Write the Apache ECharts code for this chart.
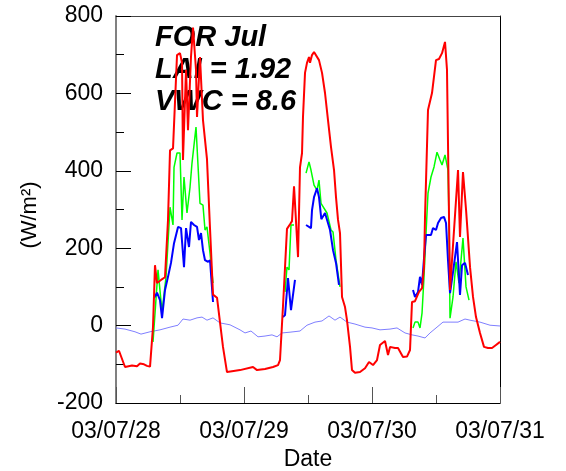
<!DOCTYPE html>
<html>
<head>
<meta charset="utf-8">
<script src="https://cdn.jsdelivr.net/npm/echarts@6/dist/echarts.min.js"></script>
<style>
html,body{margin:0;padding:0;background:#fff;}
#chart{width:566px;height:471px;}
</style>
</head>
<body>
<div id="chart"></div>
<script>
// hours since 03/07/28 00:00 -> value (W/m2)
const dayLabels = {0:'03/07/28', 24:'03/07/29', 48:'03/07/30', 72:'03/07/31'};
const yTicks = [-200, 0, 200, 400, 600, 800];
const annotations = ['FOR Jul', 'LAI = 1.92', 'VWC = 8.6'];

const redSeries = [
 [0,-70],[0.56,-65],[1.69,-107],[3.0,-103],[3.94,-105],[4.5,-98],[5.25,-100],[5.81,-104],[6.38,-106],
 [6.94,-3],[7.31,156],[7.69,110],[8.44,118],[9.19,125],[9.75,273],[10.13,453],[10.69,458],[11.44,699],
 [12.0,704],[12.38,679],[12.56,428],[13.13,661],[13.5,505],[14.06,694],[14.44,770],[15.0,661],[15.19,539],
 [15.75,694],[16.31,531],[17.06,430],[17.63,250],[18.19,80],[18.94,72],[20.06,-55],[20.81,-120],[21.75,-118],
 [23.25,-115],[25.69,-107],[26.44,-115],[27.94,-112],[29.44,-107],[30.38,-102],[30.75,-89],[31.31,50],
 [31.69,150],[32.06,250],[32.63,262],[33.0,270],[33.38,360],[33.56,363],[34.13,177],[34.5,409],[34.88,446],
 [35.06,539],[35.44,653],[35.81,679],[36.19,694],[36.38,679],[36.75,699],[37.13,707],[37.5,707],[38.06,686],
 [38.63,653],[39.19,601],[39.75,531],[40.31,462],[40.88,402],[41.25,332],[41.63,273],[42.0,239],[42.38,74],
 [42.94,48],[43.31,14],[43.88,-55],[44.25,-115],[44.81,-122],[45.75,-120],[46.69,-110],[47.44,-94],
 [48.19,-102],[48.94,-89],[49.5,-50],[50.44,-40],[51.0,-76],[51.38,-55],[52.31,-58],[52.88,-58],[53.81,-81],
 [54.56,-80],[55.13,-63],[55.5,61],[56.06,63],[56.81,87],[57.38,97],[57.75,151],[57.94,281],[58.5,557],
 [59.25,601],[60.0,686],[60.56,689],[61.13,704],[61.69,733],[62.06,661],[62.63,92],[64.13,402],[64.5,229],
 [65.06,397],[65.63,300],[66.38,151],[66.94,74],[67.5,22],[68.25,-19],[69.0,-55],[69.75,-58],[70.5,-58],
 [71.25,-50],[72.0,-42]
];

const lightBlueSeries = [
 [0,-6],[1.69,-9],[3.56,-16],[4.69,-22],[6.38,-16],[8.25,-11],[10.13,-4],[11.63,1],[12.56,17],[13.88,14],
 [15.19,20],[16.13,22],[17.06,14],[18.19,20],[19.5,7],[21.38,2],[23.25,-11],[24.19,-19],[25.31,-14],
 [26.63,-29],[27.94,-27],[29.25,-24],[30.19,-29],[31.13,-19],[32.63,-17],[34.5,-14],[35.81,1],[37.31,9],
 [38.63,12],[39.94,25],[41.06,14],[42.0,22],[43.31,9],[44.81,4],[46.69,-4],[48.0,-6],[49.5,-11],[51.38,-9],
 [52.69,-6],[54.19,-19],[55.5,-24],[56.63,-27],[57.94,-32],[58.88,-19],[60.19,-4],[61.31,9],[62.63,9],
 [64.13,9],[65.44,17],[66.38,14],[68.25,9],[70.13,1],[72.0,-1]
];

const blueSeries = [
 [7.13,71],[7.69,85],[8.25,66],[8.63,19],[9.19,92],[9.75,126],[10.31,162],[10.88,213],[11.63,255],[12.19,252],
 [12.75,151],[13.13,252],[13.69,203],[14.06,268],[14.63,260],[15.19,255],[15.56,221],[15.94,239],[16.31,195],
 [16.69,169],[17.25,165],[17.63,169],[18.19,61],[18.5,null],
 [31.31,22],[31.69,27],[32.25,123],[32.81,40],[33.56,118],[34.5,null],
 [35.63,260],[36.0,265],[36.56,252],[36.75,298],[37.13,332],[37.69,355],[38.06,332],[38.5,275],[39.19,291],
 [39.56,291],[40.13,247],[40.69,195],[41.25,162],[41.81,105],[42.5,null],
 [55.69,92],[56.06,74],[56.63,87],[57.0,126],[57.38,105],[57.75,174],[58.13,234],[58.5,239],[59.06,234],
 [59.44,252],[60.0,247],[60.38,265],[60.94,278],[61.5,281],[61.88,265],[62.25,169],[62.63,84],[63.19,138],
 [63.94,216],[64.5,79],[64.88,156],[65.44,162],[66.0,131]
];

const greenSeries = [
 [6.94,-42],[7.88,144],[8.63,35],[9.38,126],[10.13,306],[10.69,260],[10.88,409],[11.44,446],[12.0,446],
 [12.38,273],[12.75,384],[13.31,291],[13.88,358],[14.25,420],[15.0,513],[15.75,316],[16.31,311],[16.69,247],
 [17.06,255],[17.63,187],[18.19,110],[18.5,null],
 [31.69,87],[32.06,151],[32.44,144],[32.81,260],[33.38,260],[34.0,null],
 [35.63,394],[36.19,423],[36.56,402],[37.13,363],[37.69,350],[38.06,376],[38.44,316],[39.56,291],[40.31,247],
 [40.69,242],[41.25,169],[42.0,100],[42.5,null],
 [55.69,-6],[56.06,9],[56.63,9],[57.0,-6],[57.38,32],[57.75,126],[58.13,239],[58.5,342],[59.06,384],
 [59.63,410],[60.19,448],[60.75,428],[61.13,415],[61.69,441],[62.25,402],[62.44,273],[62.63,19],[63.19,74],
 [63.75,165],[64.31,110],[65.06,226],[65.63,100],[66.19,66]
];

const chart = echarts.init(document.getElementById('chart'), null, {renderer:'canvas'});
const FONT = '"Liberation Sans", Arial, sans-serif';

function lineSeries(name, data, color, width){
  return {name, type:'line', data, showSymbol:false, symbol:'none', connectNulls:false,
          lineStyle:{color, width}, itemStyle:{color}, animation:false, z:2};
}

chart.setOption({
  animation:false,
  backgroundColor:'#fff',
  grid:{left:116, top:16, width:384, height:387, show:false, containLabel:false, outerBoundsMode:'none'},
  xAxis:[{
    type:'value', min:0, max:72, interval:24, position:'bottom',
    name:'Date', nameLocation:'middle', nameGap:44,
    nameTextStyle:{fontFamily:FONT, fontSize:23, color:'#000'},
    axisLine:{show:true, onZero:false, lineStyle:{color:'#000', width:1}},
    axisTick:{show:true, inside:true, length:16, lineStyle:{color:'#555', width:1}},
    minorTick:{show:true, splitNumber:2, length:8, lineStyle:{color:'#555', width:1}},
    splitLine:{show:false},
    axisLabel:{fontFamily:FONT, fontSize:23, color:'#000', margin:17,
      formatter:v => dayLabels[v] !== undefined ? dayLabels[v] : ''}
  },{
    type:'value', min:0, max:72, position:'top',
    axisLine:{show:true, onZero:false, lineStyle:{color:'#444', width:1}},
    axisTick:{show:false}, axisLabel:{show:false}, splitLine:{show:false}
  }],
  yAxis:[{
    type:'value', min:-200, max:800, interval:200, position:'left',
    axisLine:{show:true, onZero:false, lineStyle:{color:'#808080', width:2}},
    axisTick:{show:true, inside:true, length:15, lineStyle:{color:'#000', width:1}},
    minorTick:{show:true, splitNumber:2, length:8, lineStyle:{color:'#000', width:1}},
    splitLine:{show:false},
    axisLabel:{fontFamily:FONT, fontSize:23, color:'#000', margin:13,
      formatter:v => yTicks.indexOf(v) >= 0 ? String(v) : ''}
  },{
    type:'value', min:-200, max:800, position:'right',
    axisLine:{show:true, onZero:false, lineStyle:{color:'#000', width:1}},
    axisTick:{show:false}, axisLabel:{show:false}, splitLine:{show:false}
  }],
  graphic:[
    {type:'text', x:30, y:215, rotation:Math.PI/2,
      style:{text:'(W/m²)', font:'22px '+FONT, fill:'#000', align:'center', verticalAlign:'middle'}},
    {type:'text', x:155, y:23, style:{text:annotations[0], font:'italic bold 29px '+FONT, fill:'#000', verticalAlign:'top'}},
    {type:'text', x:155, y:55, style:{text:annotations[1], font:'italic bold 29px '+FONT, fill:'#000', verticalAlign:'top'}},
    {type:'text', x:155, y:87, style:{text:annotations[2], font:'italic bold 29px '+FONT, fill:'#000', verticalAlign:'top'}}
  ],
  series:[
    lineSeries('Rn soil', lightBlueSeries, '#7f7fff', 1),
    lineSeries('G', greenSeries, '#00ff00', 1.5),
    lineSeries('H', blueSeries, '#0000ff', 2),
    lineSeries('Rn', redSeries, '#ff0000', 2)
  ]
});
</script>
</body>
</html>
